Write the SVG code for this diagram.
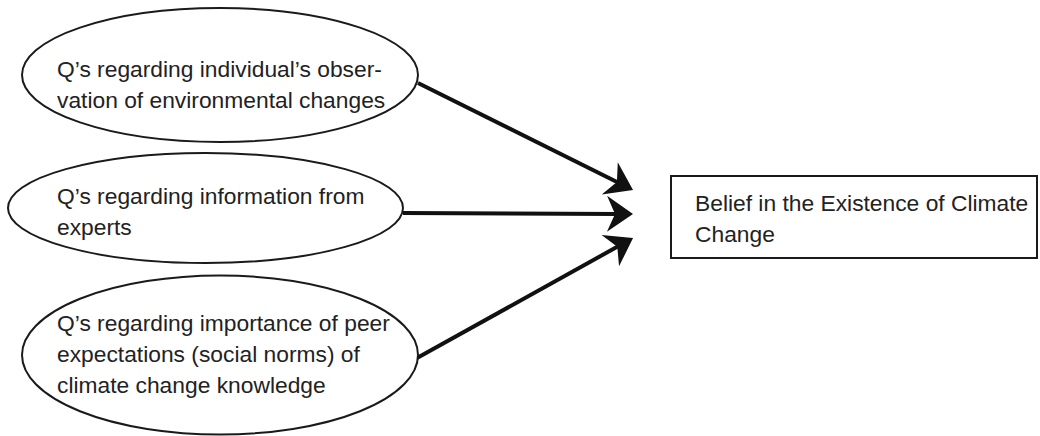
<svg xmlns="http://www.w3.org/2000/svg" width="1040" height="436" viewBox="0 0 1040 436">
<style>
.n{fill:#fff;stroke:#1a1a1a;stroke-width:2}
.t{font-family:"Liberation Sans",Arial,sans-serif;font-size:22.8px;fill:#222}
.c{stroke:#111;stroke-width:4;fill:none}
</style>
<defs>
<marker id="ah" markerUnits="userSpaceOnUse" markerWidth="32" markerHeight="40" viewBox="0 0 32 40" refX="16" refY="20" orient="auto" overflow="visible">
<path d="M30,20 L4,2 L12,20 L4,38 Z" fill="#111"/>
</marker>
</defs>
<rect width="1040" height="436" fill="#fff"/>
<g id="connectors">
<line class="c" x1="418" y1="83" x2="620.5" y2="183.8" marker-end="url(#ah)"/>
<line class="c" x1="403" y1="213" x2="619" y2="213.9" marker-end="url(#ah)"/>
<line class="c" x1="417" y1="358" x2="620.8" y2="244.8" marker-end="url(#ah)"/>
</g>
<g id="node-observation">
<ellipse class="n" cx="220" cy="75" rx="198" ry="67"/>
<text class="t" x="57" y="77">Q’s regarding individual’s obser-</text>
<text class="t" x="57" y="108">vation of environmental changes</text>
</g>
<g id="node-experts">
<ellipse class="n" cx="205.5" cy="208" rx="197.5" ry="55"/>
<text class="t" x="57" y="204">Q’s regarding information from</text>
<text class="t" x="57" y="235">experts</text>
</g>
<g id="node-norms">
<ellipse class="n" cx="220" cy="355" rx="198" ry="79.5"/>
<text class="t" x="57" y="331">Q’s regarding importance of peer</text>
<text class="t" x="57" y="362">expectations (social norms) of</text>
<text class="t" x="57" y="393">climate change knowledge</text>
</g>
<g id="node-belief">
<rect class="n" x="671" y="176" width="366" height="82"/>
<text class="t" x="695" y="211">Belief in the Existence of Climate</text>
<text class="t" x="695" y="242">Change</text>
</g>
</svg>
